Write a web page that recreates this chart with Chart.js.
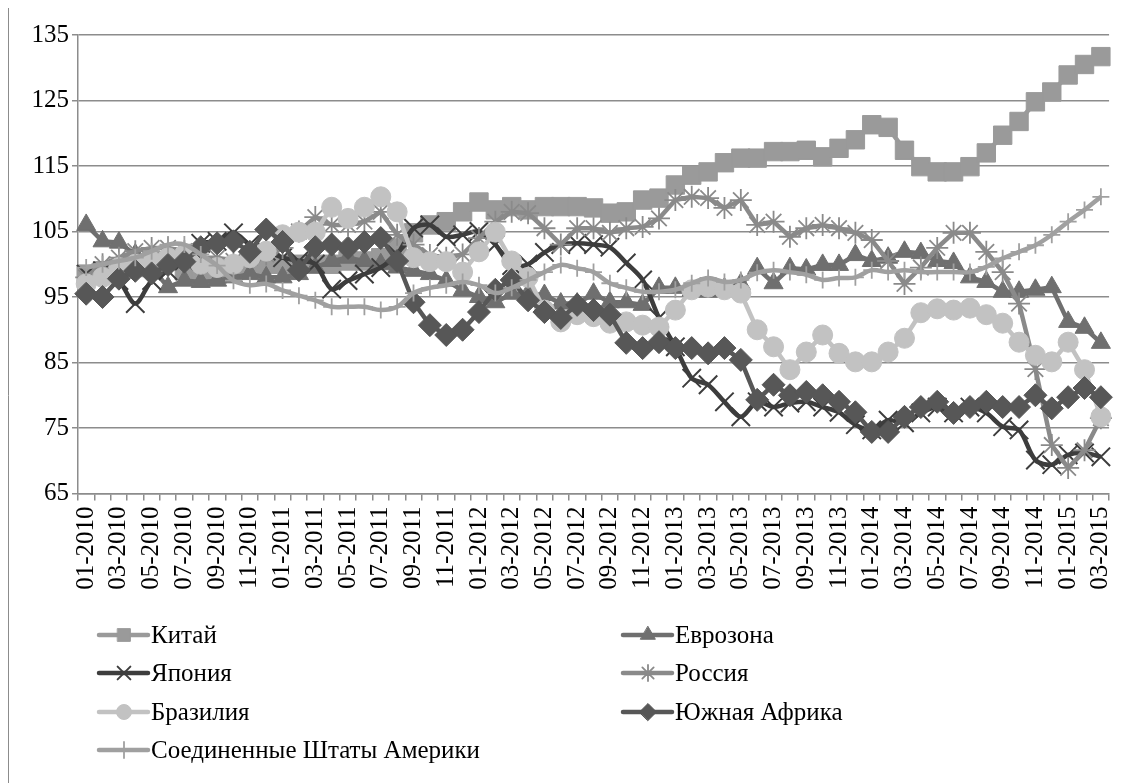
<!DOCTYPE html>
<html>
<head>
<meta charset="utf-8">
<script src="https://cdn.jsdelivr.net/npm/chart.js@4.4.1/dist/chart.umd.min.js"></script>
<style>
  html, body { margin: 0; padding: 0; background: #fff; }
  #wrap { width: 1137px; height: 783px; position: relative; }
</style>
</head>
<body>
<div id="wrap"><canvas id="c" width="1137" height="783"></canvas></div>
<script>
const categories = [
  "01-2010","02-2010","03-2010","04-2010","05-2010","06-2010","07-2010","08-2010","09-2010","10-2010","11-2010","12-2010",
  "01-2011","02-2011","03-2011","04-2011","05-2011","06-2011","07-2011","08-2011","09-2011","10-2011","11-2011","12-2011",
  "01-2012","02-2012","03-2012","04-2012","05-2012","06-2012","07-2012","08-2012","09-2012","10-2012","11-2012","12-2012",
  "01-2013","02-2013","03-2013","04-2013","05-2013","06-2013","07-2013","08-2013","09-2013","10-2013","11-2013","12-2013",
  "01-2014","02-2014","03-2014","04-2014","05-2014","06-2014","07-2014","08-2014","09-2014","10-2014","11-2014","12-2014",
  "01-2015","02-2015","03-2015"
];
const yTicks = [65, 75, 85, 95, 105, 115, 125, 135];

const china = [98.5,99,99,99.5,100.5,100.5,99,98.5,98.5,99,99.5,100,
  100,100,100,100,100.5,100.5,101,102.5,104.8,106,106.5,108,
  109.5,108.3,108.8,108.3,108.8,108.8,108.8,108.6,107.8,108,109.8,110.1,
  112.1,113.6,114.1,115.5,116.2,116.2,117.2,117.2,117.4,116.4,117.7,119,
  121.3,120.9,117.4,114.9,114.1,114.1,114.9,117,119.7,121.8,124.8,126.3,
  128.9,130.5,131.7];
const eurozone = [106,103.5,103.3,101.5,99.5,96.5,97.5,97.3,97.5,98,98.5,98,
  98,98.5,99.5,100.5,101,100.5,100,99.5,99,98.5,97.5,96,
  95,94.2,95.5,95.5,95.3,94,94,95.5,94.2,94.2,93.8,96.4,
  96.4,96,95.8,96.3,97,99.4,97.1,99.4,99.2,99.9,99.9,101.4,
  100.5,101,101.9,101.7,100.5,100.2,98,97.3,95.8,95.8,96.1,96.5,
  91.2,90.3,88];
const japan = [98.5,99,97.5,94,97.5,99,100.5,103.2,103.5,104.8,103,102,
  101,100.5,100,96.2,97.5,98.5,99.5,101.5,105.5,106,104.2,104.5,
  105,103,99.8,100,101.8,103,103.2,103,102.6,100.2,97.6,91.8,
  87.4,82.6,81.6,79,76.7,79,78.2,78.8,79,78.2,77.4,75.5,
  74.7,76.2,75.8,77.3,78.2,77.3,78.2,77.3,75.2,74.7,70.1,69.4,
  70.9,71.2,70.6];
const russia = [98,100,101,102,102.5,102.5,102,101,101,100.5,101,101.5,
  102.5,105,107.2,106,106,106.5,108,104.5,103,101.4,101,101.5,
  104,106.5,108,107.8,105.5,103,105.5,105.5,104.8,105.5,105.7,107,
  109.8,110.3,110.1,108.6,109.8,106,106.5,104.2,105.5,106,105.5,104.8,
  103.7,100.5,97,99.5,102.5,104.8,104.8,101.9,98.8,94,84,72.4,
  68.9,71.6,76.5];
const brazil = [97,98,99.5,100,100.5,101,101.5,100,99.5,100,101,102,
  104.5,104.9,104.9,108.7,107,108.7,110.3,108,101,100.4,100.4,98.8,
  101.9,104.9,100.5,98,93,91.2,92.3,92,91,91.2,90.7,90.4,
  93,96.1,96.5,96.1,95.6,90,87.4,83.9,86.6,89.2,86.4,85.1,
  85.1,86.6,88.7,92.6,93.2,93,93.3,92.3,91,88.1,86.1,85.1,
  88.1,83.9,76.7];
const southAfrica = [95.5,95,97.8,99,98.6,99.9,100.4,102.6,103.2,103.5,101.9,105.3,
  103.4,99.1,102.6,103,102.5,103.4,104,100.5,94.2,90.7,89.2,90,
  92.7,96.1,97.6,94.5,92.7,91.8,93.8,93,92.3,88,87.2,88.1,
  87.2,87.2,86.4,87.2,85.4,79.3,81.6,80,80.5,80,79,77.4,
  74.4,74.4,76.7,78.2,79,77.3,78.2,79,78.2,78.2,80,78,
  79.7,81.1,79.7];
const usa = [99.5,100,100.5,101,102,103,103,101.5,99.8,97.5,96.8,97,
  96,95.2,94.5,93.5,93.5,93.5,93,93.5,95.6,96.4,96.8,97.3,
  96.8,95.6,96.4,97.6,98.8,99.9,99.4,98.8,97.1,96.4,95.8,95.8,
  96.1,97.1,97.9,97.3,97.6,98.7,99.1,98.8,98.4,97.6,97.9,98,
  99.1,98.8,99.1,98.8,98.8,98.8,98.8,99.6,100.9,101.9,102.9,104.5,
  106.5,108.3,110.3];

const seriesNames = ["Китай","Еврозона","Япония","Россия","Бразилия","Южная Африка","Соединенные Штаты Америки"];
const seriesData = [china, eurozone, japan, russia, brazil, southAfrica, usa];

const styles = [
  { line: '#9a9a9a', fill: '#9a9a9a', stroke: '#9a9a9a', point: 'rect', r: 13, bw: 1, lr: 9, tension: 0 },
  { line: '#6f6f6f', fill: '#6f6f6f', stroke: '#6f6f6f', point: 'triangle', r: 11, bw: 1, lr: 8.5, tension: 0 },
  { line: '#3d3d3d', fill: '#3d3d3d', stroke: '#3d3d3d', point: 'crossRot', r: 13, bw: 2, lr: 9, tension: 0.3 },
  { line: '#8a8a8a', fill: '#8a8a8a', stroke: '#8a8a8a', point: 'star', r: 11, bw: 1.8, lr: 8, tension: 0 },
  { line: '#c2c2c2', fill: '#c2c2c2', stroke: '#c2c2c2', point: 'circle', r: 10, bw: 1, lr: 7.5, tension: 0 },
  { line: '#575757', fill: '#575757', stroke: '#575757', point: 'rectRot', r: 11.5, bw: 1, lr: 8.5, tension: 0 },
  { line: '#a0a0a0', fill: '#a0a0a0', stroke: '#a0a0a0', point: 'cross', r: 8.5, bw: 1.8, lr: 8, tension: 0.35 }
];

const FONT = "'Liberation Serif', 'Times New Roman', serif";
Chart.defaults.font.family = FONT;
Chart.defaults.color = '#000';

const datasets = seriesNames.map((name, i) => ({
  label: name,
  data: seriesData[i],
  borderColor: styles[i].line,
  backgroundColor: styles[i].fill,
  borderWidth: 4.5,
  pointStyle: styles[i].point,
  pointRadius: styles[i].r,
  pointHoverRadius: styles[i].r,
  pointBackgroundColor: styles[i].fill,
  pointBorderColor: styles[i].stroke,
  pointBorderWidth: styles[i].bw,
  legendRadius: styles[i].lr,
  tension: styles[i].tension,
  fill: false,
  order: seriesNames.length - i
}));

const GRID = '#8c8c8c';

const frameAndLegend = {
  id: 'frameAndLegend',
  beforeDraw(chart) {
    const ctx = chart.ctx;
    ctx.save();
    ctx.fillStyle = '#fff';
    ctx.fillRect(0, 0, chart.width, chart.height);
    ctx.restore();
  },
  afterDraw(chart) {
    const ctx = chart.ctx;
    ctx.save();
    ctx.strokeStyle = '#8c8c8c';
    ctx.lineWidth = 1;
    ctx.beginPath();
    ctx.moveTo(8.5, 8);
    ctx.lineTo(8.5, 783);
    ctx.stroke();
    ctx.restore();

    const cols = [99, 623];
    const rows = [635, 673, 712, 750];
    chart.data.datasets.forEach((ds, i) => {
      const x0 = cols[i % 2];
      const y = rows[Math.floor(i / 2)];
      ctx.save();
      ctx.strokeStyle = ds.borderColor;
      ctx.lineWidth = ds.borderWidth;
      ctx.lineCap = 'round';
      ctx.beginPath();
      ctx.moveTo(x0, y);
      ctx.lineTo(x0 + 49, y);
      ctx.stroke();
      ctx.fillStyle = ds.pointBackgroundColor;
      ctx.strokeStyle = ds.pointBorderColor;
      ctx.lineWidth = ds.pointBorderWidth;
      Chart.helpers.drawPoint(ctx, {
        pointStyle: ds.pointStyle, radius: ds.legendRadius,
        borderWidth: ds.pointBorderWidth, rotation: 0
      }, x0 + 25, y);
      ctx.fillStyle = '#000';
      ctx.font = '25px ' + FONT;
      ctx.textBaseline = 'middle';
      ctx.textAlign = 'left';
      ctx.fillText(ds.label, x0 + 52, y + 1);
      ctx.restore();
    });
  }
};

new Chart(document.getElementById('c'), {
  type: 'line',
  data: { labels: categories, datasets },
  options: {
    responsive: false,
    animation: false,
    devicePixelRatio: 1,
    layout: { padding: { left: 0, top: 35, right: 5, bottom: 0 } },
    plugins: {
      legend: { display: false },
      tooltip: { enabled: false },
      title: { display: false }
    },
    scales: {
      x: {
        type: 'category',
        offset: true,
        afterFit: (scale) => { scale.height = 289.5; },
        grid: {
          offset: true,
          drawOnChartArea: false,
          drawTicks: true,
          tickLength: 7,
          color: GRID,
          lineWidth: 1.5
        },
        border: { display: true, color: GRID, width: 1.5 },
        ticks: {
          autoSkip: false,
          maxRotation: 90,
          minRotation: 90,
          padding: 6,
          font: { size: 25, family: FONT },
          color: '#000',
          callback: function (value, index) {
            return index % 2 === 0 ? categories[index] : '';
          }
        }
      },
      y: {
        min: yTicks[0],
        max: yTicks[yTicks.length - 1],
        afterFit: (scale) => { scale.width = 78; },
        afterBuildTicks: (scale) => { scale.ticks = yTicks.map(v => ({ value: v })); },
        grid: {
          color: GRID,
          lineWidth: 1.5,
          drawTicks: true,
          tickLength: 6
        },
        border: { display: true, color: GRID, width: 1.5 },
        ticks: {
          padding: 3,
          font: { size: 25, family: FONT },
          color: '#000'
        }
      }
    }
  },
  plugins: [frameAndLegend]
});
</script>
</body>
</html>
